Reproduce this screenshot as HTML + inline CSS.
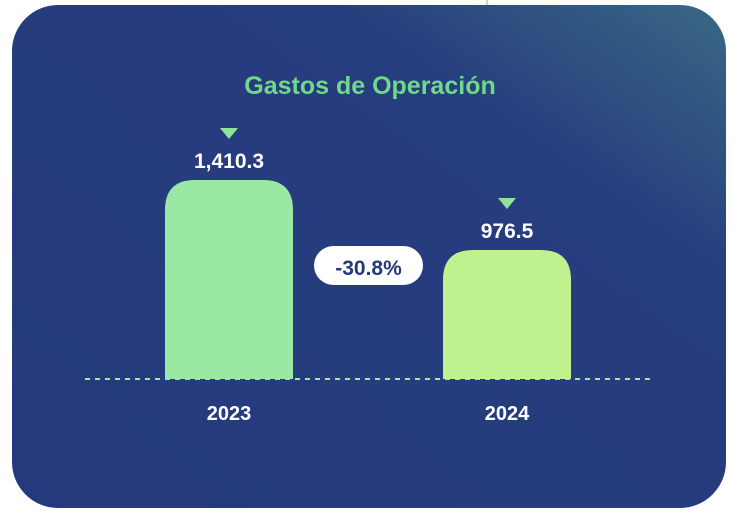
<!DOCTYPE html>
<html><head><meta charset="utf-8">
<style>
html,body{margin:0;padding:0;background:#fff;width:732px;height:518px;overflow:hidden}
svg{display:block}
text{font-family:"Liberation Sans",sans-serif;font-weight:bold}
</style></head>
<body>
<svg id="chart" width="732" height="518" viewBox="0 0 732 518">
<defs>
<linearGradient id="bg" x1="0" y1="1" x2="1" y2="0">
<stop offset="0" stop-color="#243a7c"/>
<stop offset="0.72" stop-color="#263d7e"/>
<stop offset="1" stop-color="#3a6884"/>
</linearGradient>
</defs>
<line x1="487" y1="0" x2="487" y2="6" stroke="#9aa3b8" stroke-width="1"/>
<rect x="12" y="5" width="714" height="503" rx="46" fill="url(#bg)"/>
<text x="370" y="94" text-anchor="middle" font-size="25" fill="#6fd88a">Gastos de Operación</text>
<line x1="85" y1="379" x2="655" y2="379" stroke="#9be8a2" stroke-width="2" stroke-dasharray="5,5"/>
<g id="bars"></g>
<rect x="314" y="246" width="109" height="39" rx="19.5" fill="#fff"/>
<text x="368.5" y="275" text-anchor="middle" font-size="21" fill="#253a7a">-30.8%</text>
</svg>
<script>
const categories = ["2023", "2024"];
const values = [1410.3, 976.5];
const valueLabels = ["1,410.3", "976.5"];
const yMin = 177;
const colors = ["#9be8a2", "#bff28f"];

const baseY = 379, pxPerUnit = 199 / (1410.3 - 177);
const x0 = 165, step = 278, bw = 128;
function xPos(i){ return x0 + i * step; }
function yPos(v){ return baseY - (v - yMin) * pxPerUnit; }
const NS = "http://www.w3.org/2000/svg";
const g = document.getElementById("bars");
categories.forEach((c, i) => {
  const x = xPos(i), top = yPos(values[i]), r = 30;
  const p = document.createElementNS(NS, "path");
  p.setAttribute("d", `M${x},${baseY} V${top + r} Q${x},${top} ${x + r},${top} H${x + bw - r} Q${x + bw},${top} ${x + bw},${top + r} V${baseY} Z`);
  p.setAttribute("fill", colors[i]);
  
  
  g.appendChild(p);
  const cx = x + bw / 2;
  const tri = document.createElementNS(NS, "path");
  tri.setAttribute("d", `M${cx - 9},${top - 52} H${cx + 9} L${cx},${top - 41} Z`);
  tri.setAttribute("fill", "#8fe39a");
  
  
  g.appendChild(tri);
  const vt = document.createElementNS(NS, "text");
  vt.setAttribute("x", cx); vt.setAttribute("y", top - 12);
  vt.setAttribute("text-anchor", "middle"); vt.setAttribute("font-size", "21"); vt.setAttribute("fill", "#fff");
  vt.textContent = valueLabels[i];
  
  
  g.appendChild(vt);
  const ct = document.createElementNS(NS, "text");
  ct.setAttribute("x", cx); ct.setAttribute("y", 420);
  ct.setAttribute("text-anchor", "middle"); ct.setAttribute("font-size", "20"); ct.setAttribute("fill", "#fff");
  ct.textContent = c;
  
  
  g.appendChild(ct);
});
</script>
</body></html>
